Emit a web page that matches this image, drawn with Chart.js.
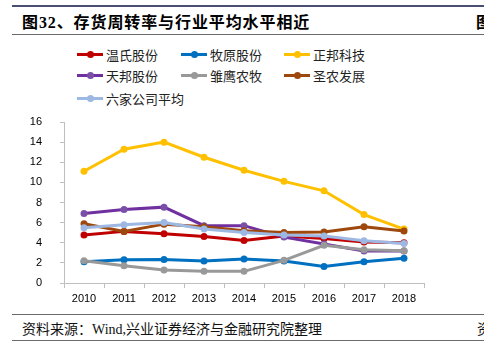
<!DOCTYPE html>
<html>
<head>
<meta charset="utf-8">
<script src="https://cdn.jsdelivr.net/npm/chart.js@4.4.0/dist/chart.umd.min.js"></script>
<style>
  html, body { margin: 0; padding: 0; background: #fff; }
  body { width: 484px; height: 355px; position: relative; overflow: hidden; }
  .hline { position: absolute; left: 12px; right: 0; height: 0; }
  #title { position: absolute; left: 22px; top: 9px; font: bold 16px "Liberation Serif", "Noto Sans CJK SC", serif; color: #000; white-space: nowrap; letter-spacing: 0.9px; }
  #title2 { position: absolute; left: 476px; top: 9px; font: bold 16px "Noto Sans CJK SC", sans-serif; color: #000; }
  #foot { position: absolute; left: 22px; top: 318px; font: 14px "Liberation Serif", "Noto Sans CJK SC", serif; color: #111; white-space: nowrap; }
  #foot2 { position: absolute; left: 477px; top: 318px; font: 14px "Noto Sans CJK SC", sans-serif; color: #111; }
  #legend { position: absolute; left: 0; top: 0; width: 484px; height: 110px; }
  .li { position: absolute; height: 20px; display: flex; align-items: center; font: 13px "Noto Sans CJK SC", sans-serif; color: #222; white-space: nowrap; }
  .li .sw { position: relative; width: 26px; height: 3px; margin-right: 3px; }
  .li .sw i { position: absolute; left: 9.5px; top: -2px; width: 7px; height: 7px; border-radius: 50%; }
  #wrap { position: absolute; left: 0; top: 110px; width: 484px; height: 200px; }
</style>
</head>
<body>
<div class="hline" style="top:5px;border-top:2px solid #4a4e72;"></div>
<div class="hline" style="top:34px;border-top:1.5px solid #6b6b6b;"></div>
<div id="title">图32、存货周转率与行业平均水平相近</div>
<div id="title2">图</div>
<div id="legend"></div>
<div id="wrap"><canvas id="c" width="484" height="200"></canvas></div>
<div class="hline" style="top:314px;border-top:1.5px solid #6b6b6b;"></div>
<div class="hline" style="top:340px;border-top:1.5px solid #6b6b6b;"></div>
<div id="foot">资料来源：Wind,兴业证券经济与金融研究院整理</div>
<div id="foot2">资</div>
<script>
const years = ['2010','2011','2012','2013','2014','2015','2016','2017','2018'];
const seriesNames = ['温氏股份','牧原股份','正邦科技','天邦股份','雏鹰农牧','圣农发展','六家公司平均'];
const wenshi   = [4.76, 5.13, 4.90, 4.63, 4.23, 4.66, 4.43, 4.07, 4.00];
const muyuan   = [2.12, 2.30, 2.33, 2.18, 2.38, 2.18, 1.65, 2.12, 2.45];
const zhengbang= [11.1, 13.3, 14.0, 12.5, 11.2, 10.1, 9.16, 6.80, 5.36];
const tianbang = [6.90, 7.30, 7.54, 5.70, 5.70, 4.56, 3.87, 3.17, 3.17];
const chuying  = [2.22, 1.72, 1.29, 1.16, 1.16, 2.25, 3.74, 3.30, 3.20];
const shengnong= [5.88, 5.13, 5.85, 5.59, 5.19, 5.03, 5.06, 5.59, 5.16];
const average  = [5.49, 5.79, 6.02, 5.36, 5.03, 4.76, 4.66, 4.20, 3.93];
const yTicks = [0, 2, 4, 6, 8, 10, 12, 14, 16];

const allValues = [wenshi, muyuan, zhengbang, tianbang, chuying, shengnong, average];
const colors = ['#C00000', '#0070C0', '#FFC000', '#7030A0', '#999999', '#9E480E', '#9DB9E3'];
const pointColors = ['#C00000', '#0070C0', '#FFC000', '#7A4FA8', '#999999', '#9E480E', '#9DB9E3'];

const datasets = allValues.map((vals, i) => ({
  label: seriesNames[i],
  data: vals,
  borderColor: colors[i],
  backgroundColor: pointColors[i],
  pointBackgroundColor: pointColors[i],
  pointBorderColor: pointColors[i],
  borderWidth: 3,
  pointRadius: 3.5,
  pointBorderWidth: 0,
  tension: 0,
  order: allValues.length - i
}));

// HTML legend in three columns
const legend = document.getElementById('legend');
const colX = [77, 181, 284];
const rowY = [44, 65, 88];
seriesNames.forEach((name, i) => {
  const d = document.createElement('div');
  d.className = 'li';
  d.style.left = colX[i % 3] + 'px';
  d.style.top = rowY[Math.floor(i / 3)] + 'px';
  d.innerHTML = '<span class="sw" style="background:' + colors[i] + '"><i style="background:' + pointColors[i] + '"></i></span>' + name;
  legend.appendChild(d);
});

new Chart(document.getElementById('c'), {
  type: 'line',
  data: { labels: years, datasets: datasets },
  options: {
    responsive: false,
    animation: false,
    devicePixelRatio: 1,
    layout: { padding: { left: 0, right: 60, top: 0, bottom: 0 } },
    plugins: { legend: { display: false }, tooltip: { enabled: false } },
    scales: {
      x: {
        offset: true,
        grid: { display: true, drawOnChartArea: false, offset: true, tickLength: 5, color: '#bfbfbf' },
        border: { color: '#bfbfbf', width: 1 },
        ticks: { color: '#000', font: { family: 'Liberation Sans', size: 11 }, padding: 4, maxRotation: 0 },
        afterFit: s => { s.height = 27; }
      },
      y: {
        min: 0, max: 16,
        afterBuildTicks: s => { s.ticks = yTicks.map(v => ({ value: v })); },
        grid: { display: true, drawOnChartArea: false, tickLength: 4, color: '#bfbfbf' },
        border: { color: '#bfbfbf', width: 1 },
        ticks: { color: '#000', font: { family: 'Liberation Sans', size: 11 }, padding: 18 },
        afterFit: s => { s.width = 64; s.paddingTop = 12; }
      }
    }
  }
});
</script>
</body>
</html>
